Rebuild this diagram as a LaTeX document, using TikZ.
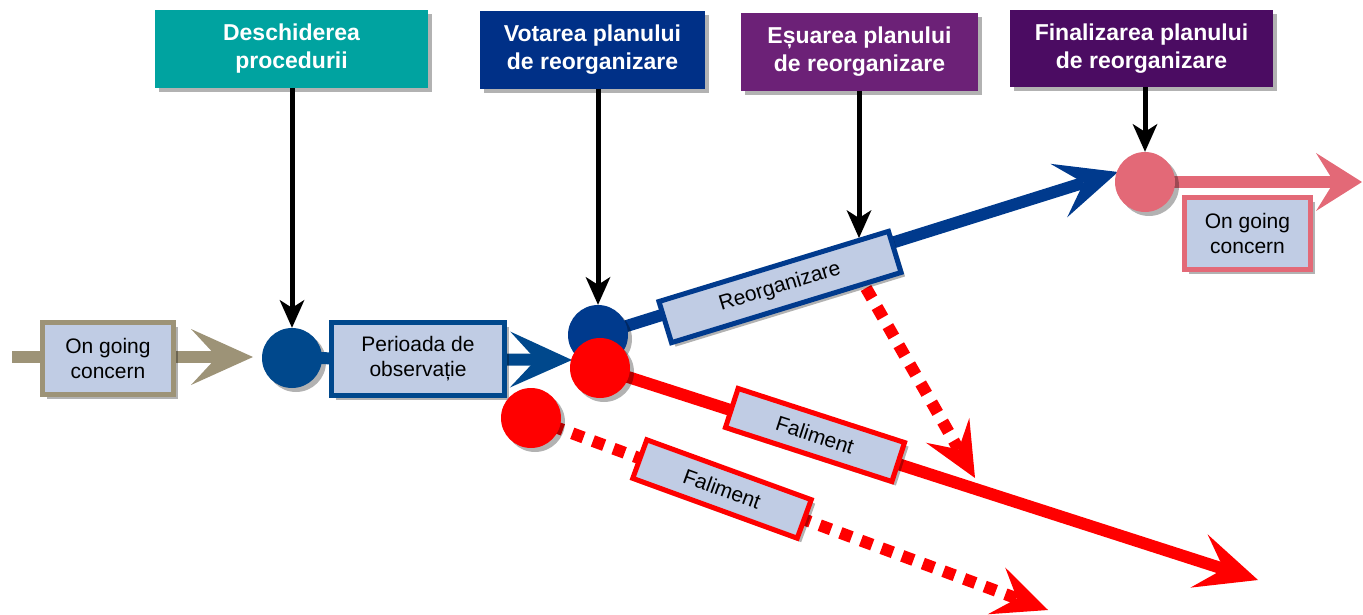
\documentclass[tikz,border=0pt]{standalone}
\usepackage{fontspec}
\setmainfont{Liberation Sans}
\usetikzlibrary{arrows.meta,shadows}
\definecolor{cteal}{RGB}{0,163,160}
\definecolor{cvot}{RGB}{0,48,135}
\definecolor{cesu}{RGB}{108,33,119}
\definecolor{cfin}{RGB}{75,12,98}
\definecolor{cblueA}{RGB}{0,72,140}
\definecolor{cblueB}{RGB}{0,58,141}
\definecolor{cred}{RGB}{255,0,0}
\definecolor{cpink}{RGB}{227,105,119}
\definecolor{ctan}{RGB}{157,147,119}
\definecolor{clight}{RGB}{192,204,228}
\begin{document}
\begin{tikzpicture}[x=1pt,y=-1pt,
  myshadow/.style={drop shadow={shadow xshift=4pt,shadow yshift=-4pt,opacity=0.3,fill=black}},
  topbox/.style={fill=#1,text=white,font=\fontsize{23}{28}\selectfont\bfseries,align=center,inner sep=0pt,myshadow},
  lbox/.style={draw=#1,line width=5pt,fill=clight,font=\fontsize{21}{25}\selectfont,align=center,inner sep=0pt,myshadow},
  dot/.style={circle,fill=#1,minimum size=60pt,inner sep=0pt,myshadow},
  bigline/.style={line width=12pt,draw=#1},
  bigtip/.style={-{Stealth[length=62pt,width=56pt,inset=26pt,line width=0pt]}},
  smalltip/.style={-{Stealth[length=55pt,width=50pt,inset=22pt,line width=0pt]}},
  dashline/.style={line width=12pt,draw=cred,dash pattern=on 12pt off 10pt},
  downarrow/.style={line width=5pt,draw=black,-{Stealth[length=28pt,width=25pt,inset=8pt,line width=0pt]}}
]
\useasboundingbox (0,0) rectangle (1363,615);

% coordinates
\coordinate (tanstart) at (12,357);
\coordinate (tantip) at (253,357);
\coordinate (pertip) at (572,360);
\coordinate (bluetip) at (1118,172);
\coordinate (redtip) at (1258,580);
\coordinate (dashAstart) at (866,288);
\coordinate (dashAtip) at (975,478);
\coordinate (dashBtip) at (1048,610);
\coordinate (pinktip) at (1362,182);
\coordinate (reorgtop) at (859,238);

% on going concern (left)
\draw[bigline=ctan,bigtip] (tanstart) -- (tantip);
\node[lbox=ctan,minimum width=131pt,minimum height=72pt] (og1) at (108,358.5) {On going\\concern};

% first blue circle and observation period
\node[dot=cblueA] (c1) at (292,358) {};
\draw[bigline=cblueA,bigtip] (c1.center) -- (pertip);
\node[lbox=cblueA,minimum width=173pt,minimum height=73pt] (per) at (418,359) {Perioada de\\observație};

% reorganisation branch
\draw[bigline=cblueB,bigtip] (598,335) -- (bluetip);
\node[dot=cblueB] (c2) at (598,335) {};
\draw[dashline,smalltip] (dashAstart) -- (dashAtip);
\node[lbox=cblueB,rotate=17,minimum width=240pt,minimum height=43pt] (reorg) at (780,287) {Reorganizare};

% bankruptcy branch (solid)
\draw[bigline=cred,bigtip] (600,368) -- (redtip);
\node[lbox=cred,rotate=-18,minimum width=175pt,minimum height=41pt] (fal1) at (815,435) {Faliment};
\node[dot=cred] (r1) at (600,368) {};

% bankruptcy branch (dotted)
\draw[dashline,smalltip] (531,418) -- (dashBtip);
\node[dot=cred] (r2) at (531,418) {};
\node[lbox=cred,rotate=-20,minimum width=175pt,minimum height=41pt] (fal2) at (722,489) {Faliment};

% going concern (right)
\draw[bigline=cpink,-{Stealth[length=46pt,width=58pt,inset=18pt,line width=0pt]}] (1145,182) -- (pinktip);
\node[dot=cpink] (p1) at (1145,182) {};
\node[lbox=cpink,minimum width=126pt,minimum height=72pt] (og2) at (1247.5,233.5) {On going\\concern};

% top boxes
\node[topbox=cteal,minimum width=273pt,minimum height=78pt] (t1) at (291.5,49) {Deschiderea\\procedurii};
\node[topbox=cvot,minimum width=225pt,minimum height=78pt] (t2) at (592.5,50) {Votarea planului\\de reorganizare};
\node[topbox=cesu,minimum width=237pt,minimum height=78pt] (t3) at (859.5,52) {Eșuarea planului\\de reorganizare};
\node[topbox=cfin,minimum width=263pt,minimum height=77pt] (t4) at (1141.5,48.5) {Finalizarea planului\\de reorganizare};

% black arrows
\draw[downarrow] (c1.north |- t1.south) -- (c1.north);
\draw[downarrow] (c2.north |- t2.south) -- (c2.north);
\draw[downarrow] (reorgtop |- t3.south) -- (reorgtop);
\draw[downarrow] (p1.north |- t4.south) -- (p1.north);
\end{tikzpicture}
\end{document}
